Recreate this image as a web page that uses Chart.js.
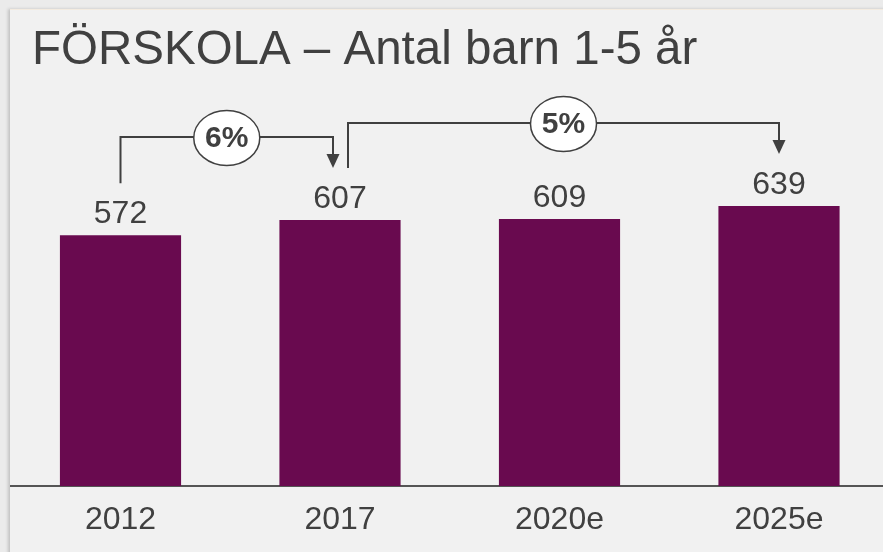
<!DOCTYPE html>
<html>
<head>
<meta charset="utf-8">
<script src="https://cdn.jsdelivr.net/npm/chart.js@4.4.0/dist/chart.umd.min.js"></script>
<style>
  html, body { margin: 0; padding: 0; overflow: hidden; background: #ebebeb; }
  #panel { position: absolute; left: 10px; top: 9px; width: 900px; height: 560px;
           background: #f1f1f1; border-top: 1px solid #f3ebe0;
           box-shadow: -2px 0 3px rgba(0,0,0,0.18); }
  #wrap { position: absolute; left: 0; top: 0; width: 900px; height: 560px; }
</style>
</head>
<body>
<div id="panel"></div>
<div id="wrap"><canvas id="myChart" width="900" height="560"></canvas></div>
<script>
// data
var years = ["2012", "2017", "2020e", "2025e"];
var children = [572, 607, 609, 639];
// growth arrows: from bar index, to bar index, label
var growthFrom = [0, 1];
var growthTo = [1, 3];
var growthLabels = ["6%", "5%"];

var titleText = "FÖRSKOLA – Antal barn 1-5 år";
var FONT = "'Liberation Sans', Arial, sans-serif";
var TEXT = "#404040";

function arrowHead(ctx, x, y) {
    ctx.beginPath();
    ctx.moveTo(x - 6.5, y - 14);
    ctx.lineTo(x + 6.5, y - 14);
    ctx.lineTo(x, y);
    ctx.closePath();
    ctx.fill();
}

var annotations = {
    id: 'annotations',
    afterDraw: function(chart) {
        var ctx = chart.ctx;
        var xs = chart.scales.x, ys = chart.scales.y;
        ctx.save();

        // title
        ctx.fillStyle = TEXT;
        ctx.font = "47.5px " + FONT;
        ctx.textAlign = "left";
        ctx.textBaseline = "alphabetic";
        ctx.fillText(titleText, 32, 64);

        // value labels
        ctx.font = "32px " + FONT;
        ctx.textAlign = "center";
        for (var i = 0; i < children.length; i++) {
            ctx.fillText(String(children[i]), xs.getPixelForValue(i), ys.getPixelForValue(children[i]) - 12);
        }

        // growth arrows
        ctx.strokeStyle = TEXT;
        ctx.lineWidth = 2;
        for (var k = 0; k < growthLabels.length; k++) {
            var a = growthFrom[k], b = growthTo[k];
            var x1 = xs.getPixelForValue(a) + (k === 0 ? 0 : 8);
            var x2 = xs.getPixelForValue(b) - (k === 0 ? 7 : 0);
            var y1 = ys.getPixelForValue(children[a]) - 52;
            var y2 = ys.getPixelForValue(children[b]) - 52;
            var yh = ys.getPixelForValue(Math.max(children[a], children[b])) - 83;
            ctx.beginPath();
            ctx.moveTo(x1, y1);
            ctx.lineTo(x1, yh);
            ctx.lineTo(x2, yh);
            ctx.lineTo(x2, y2 - 12);
            ctx.stroke();
            ctx.fillStyle = TEXT;
            arrowHead(ctx, x2, y2);

            var cx = (x1 + x2) / 2;
            ctx.beginPath();
            ctx.ellipse(cx, yh + 1, 33, 27.5, 0, 0, Math.PI * 2);
            ctx.fillStyle = "#ffffff";
            ctx.fill();
            ctx.lineWidth = 1.5;
            ctx.stroke();
            ctx.lineWidth = 2;
            ctx.fillStyle = TEXT;
            ctx.font = "bold 30px " + FONT;
            ctx.textBaseline = "middle";
            ctx.fillText(growthLabels[k], cx, yh + 2);
            ctx.textBaseline = "alphabetic";
        }
        ctx.restore();
    }
};

var ctx = document.getElementById("myChart");
var myChart = new Chart(ctx, {
    type: 'bar',
    data: {
        labels: years,
        datasets: [{
            data: children,
            backgroundColor: '#690a4f',
            borderWidth: 0,
            categoryPercentage: 1,
            barPercentage: 0.552
        }]
    },
    options: {
        responsive: false,
        animation: false,
        layout: { padding: { left: 10.75, right: 11.25, top: 135.4, bottom: 5.6 } },
        plugins: { legend: { display: false }, tooltip: { enabled: false } },
        scales: {
            x: {
                grid: { display: false, drawTicks: false },
                border: { display: true, color: '#555555', width: 2 },
                ticks: { color: TEXT, padding: 15, font: { family: FONT, size: 32 } }
            },
            y: {
                display: false,
                min: 0,
                max: 800
            }
        }
    },
    plugins: [annotations]
});
</script>
</body>
</html>
